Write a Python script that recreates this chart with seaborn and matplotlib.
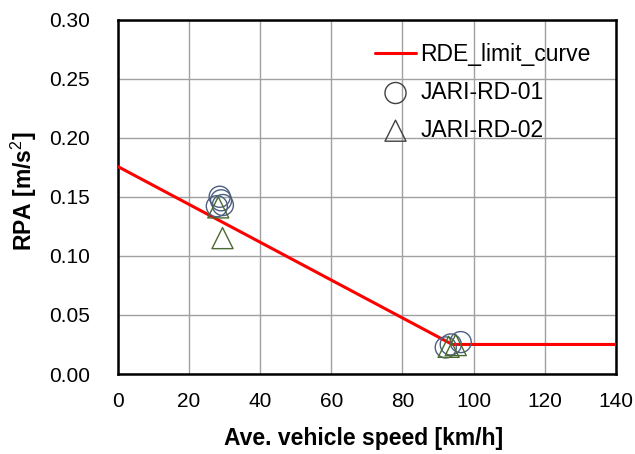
import numpy as np
import pandas as pd
import matplotlib
matplotlib.use("Agg")
import matplotlib.pyplot as plt
import seaborn as sns

# RDE limit curve (speed km/h, RPA m/s2)
limit_speed = [0, 94.05, 140]
limit_rpa = [0.1755, 0.025, 0.025]

# JARI-RD-01 points
rd01_speed = [28.6, 27.8, 29.5, 29.0, 92.2, 96.4, 93.6]
rd01_rpa = [0.150, 0.142, 0.143, 0.147, 0.0225, 0.027, 0.025]

# JARI-RD-02 points
rd02_speed = [28.2, 29.4, 93.0, 95.0]
rd02_rpa = [0.141, 0.115, 0.023, 0.0245]

sns.set_style("white")
plt.rcParams['font.family'] = ['Liberation Sans', 'DejaVu Sans']
plt.rcParams['text.color'] = 'black'
plt.rcParams['axes.labelcolor'] = 'black'
plt.rcParams['mathtext.fontset'] = 'custom'
plt.rcParams['mathtext.rm'] = 'Liberation Sans'
plt.rcParams['mathtext.bf'] = 'Liberation Sans:bold'

fig = plt.figure(figsize=(6.35, 4.54), dpi=100)
ax = fig.add_axes([118 / 635, 1 - 374 / 454, 497.7 / 635, 354.5 / 454])

df_limit = pd.DataFrame({'speed': limit_speed, 'rpa': limit_rpa})
sns.lineplot(data=df_limit, x='speed', y='rpa', ax=ax, color='red', lw=2.2,
             label='RDE_limit_curve', zorder=3)

df01 = pd.DataFrame({'speed': rd01_speed, 'rpa': rd01_rpa})
sns.scatterplot(data=df01, x='speed', y='rpa', ax=ax, marker='o', s=230,
                facecolor='none', edgecolor='#4d5f80', linewidth=1.0,
                label='JARI-RD-01', zorder=4)

df02 = pd.DataFrame({'speed': rd02_speed, 'rpa': rd02_rpa})
sns.scatterplot(data=df02, x='speed', y='rpa', ax=ax, marker='^', s=230,
                facecolor='none', edgecolor='#4a6a30', linewidth=1.0,
                label='JARI-RD-02', zorder=4)

ax.set_xlim(0, 140)
ax.set_ylim(0, 0.30)
ax.set_xticks(np.arange(0, 141, 20))
ax.set_yticks(np.arange(0, 0.301, 0.05))
ax.set_yticklabels([f"{v:.2f}" for v in np.arange(0, 0.301, 0.05)])
ax.grid(True, color='#a0a0a0', lw=1.0)
ax.set_axisbelow(True)
for s in ax.spines.values():
    s.set_color('black')
    s.set_linewidth(1.8)
ax.tick_params(labelsize=15, length=4, width=1, color='#909090',
               labelcolor='black', direction='out')
ax.tick_params(axis='x', pad=9)
ax.tick_params(axis='y', pad=16)
ax.set_xlabel('Ave. vehicle speed [km/h]', fontsize=16.5, fontweight='bold',
              va='center')
ax.set_ylabel('RPA [m/s$^\\mathrm{2}$]', fontsize=16.5, fontweight='bold',
              va='center')
ax.xaxis.set_label_coords((364 - 118) / 497.7, (374 - 439) / 354.5)
ax.yaxis.set_label_coords((24 - 118) / 497.7, (374 - 191) / 354.5)

leg = ax.legend(loc='upper left', frameon=False, fontsize=16.5,
                bbox_to_anchor=((364 - 118) / 497.7, 0.965), borderpad=0,
                handlelength=1.75, labelspacing=0.64, handletextpad=0.2)
for h in leg.legend_handles[1:]:
    h.set_edgecolor('#404040')

fig.savefig('out.png', dpi=100)
